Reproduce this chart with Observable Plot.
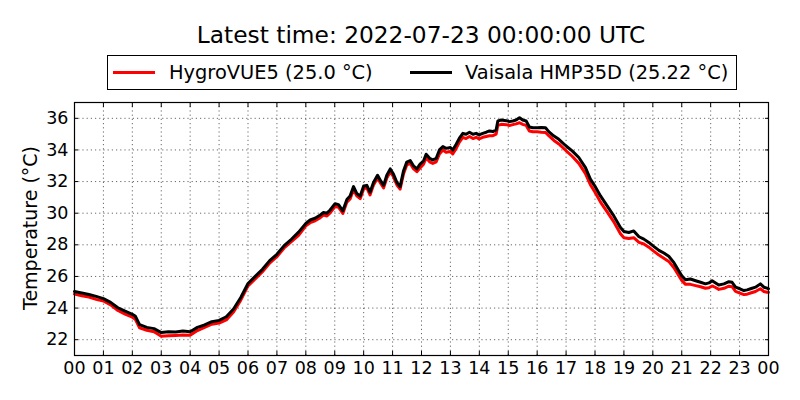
<!DOCTYPE html>
<html>
<head>
<meta charset="utf-8">
<script src="https://cdn.jsdelivr.net/npm/d3@7"></script>
<script src="https://cdn.jsdelivr.net/npm/@observablehq/plot@0.6"></script>
<style>
  html, body { margin: 0; padding: 0; background: #fff; }
  body { width: 800px; height: 400px; position: relative; overflow: hidden; font-family: "DejaVu Sans", sans-serif; }
  #title { position: absolute; left: 74px; width: 694px; top: 21px; text-align: center; font-size: 23.3px; color: #000; }
  #legend { position: absolute; left: 107px; top: 55px; width: 628px; height: 33px; border: 1px solid #000; box-sizing: content-box; font-size: 19.4px; }
  .item { position: absolute; top: 0; height: 33px; line-height: 33px; white-space: nowrap; }
  .sw { position: absolute; top: 15px; width: 42px; height: 3px; }
  #ylabel { position: absolute; left: 30px; top: 228px; transform: translate(-50%, -50%) rotate(-90deg); font-size: 19px; white-space: nowrap; }
  #chart { position: absolute; left: 0; top: 90px; }
</style>
</head>
<body>
<div id="title"></div>
<div id="legend"></div>
<div id="ylabel">Temperature (°C)</div>
<div id="chart"></div>
<script>
// Hours since 2022-07-22 00:00 UTC
const hours = [0,0.25,0.5,0.75,1,1.25,1.5,1.75,2,2.1,2.25,2.5,2.75,3,3.25,3.5,3.75,4,4.25,4.5,4.75,5,5.25,5.5,5.75,6,6.25,6.5,6.75,7,7.25,7.5,7.75,8,8.15,8.32,8.5,8.61,8.73,8.84,9.01,9.13,9.28,9.42,9.53,9.65,9.76,9.88,10,10.11,10.22,10.34,10.48,10.59,10.69,10.8,10.92,11.03,11.15,11.26,11.38,11.49,11.61,11.72,11.84,11.95,12.07,12.16,12.28,12.39,12.51,12.62,12.74,12.85,13,13.08,13.2,13.31,13.43,13.54,13.66,13.78,13.89,13.99,14.12,14.24,14.35,14.47,14.58,14.64,14.76,14.93,15.04,15.16,15.27,15.39,15.5,15.62,15.73,15.85,16,16.14,16.29,16.4,16.58,16.75,17,17.21,17.44,17.67,17.84,17.99,18.19,18.42,18.65,18.88,19,19.17,19.34,19.52,19.69,19.86,20.03,20.21,20.38,20.55,20.73,20.9,21,21.13,21.3,21.48,21.65,21.82,21.94,22.05,22.17,22.28,22.46,22.63,22.74,22.86,23.01,23.15,23.26,23.38,23.55,23.72,23.84,23.95,24];

const vaisala = [25.05,24.95,24.86,24.74,24.6,24.36,24.02,23.8,23.6,23.5,22.95,22.78,22.7,22.45,22.5,22.48,22.55,22.5,22.78,22.93,23.14,23.22,23.45,23.94,24.67,25.55,26.0,26.45,27.0,27.4,27.95,28.35,28.8,29.35,29.57,29.68,29.89,30.04,30.0,30.2,30.6,30.54,30.15,30.86,31.08,31.68,31.25,31.08,31.72,31.76,31.33,31.94,32.4,32.04,31.76,32.4,32.8,32.47,31.94,31.68,32.69,33.23,33.33,33.0,32.8,33.1,33.3,33.73,33.47,33.37,33.47,34.0,34.21,34.1,34.15,34.0,34.36,34.74,35.05,34.99,35.12,34.99,35.05,34.95,35.05,35.12,35.2,35.16,35.26,35.83,35.89,35.85,35.79,35.83,35.89,36.04,35.89,35.83,35.45,35.4,35.4,35.42,35.4,35.16,34.88,34.67,34.25,33.94,33.52,32.88,32.15,31.73,31.09,30.46,29.83,29.09,28.84,28.78,28.88,28.51,28.36,28.15,27.9,27.65,27.48,27.28,26.87,26.35,26.04,25.79,25.84,25.73,25.63,25.53,25.59,25.73,25.59,25.46,25.53,25.67,25.63,25.32,25.22,25.11,25.15,25.22,25.32,25.53,25.32,25.26,25.22];

const hygrovue = [24.88,24.78,24.7,24.55,24.45,24.2,23.85,23.62,23.42,23.3,22.75,22.6,22.5,22.22,22.25,22.27,22.3,22.28,22.58,22.78,22.98,23.05,23.25,23.75,24.5,25.4,25.85,26.3,26.85,27.25,27.8,28.2,28.6,29.2,29.4,29.52,29.72,29.88,29.82,30.02,30.42,30.38,29.98,30.7,30.9,31.5,31.1,30.92,31.55,31.6,31.15,31.78,32.22,31.88,31.6,32.22,32.62,32.3,31.78,31.52,32.5,33.05,33.15,32.82,32.62,32.85,33.1,33.5,33.25,33.15,33.25,33.75,34.0,33.85,33.9,33.75,34.1,34.5,34.8,34.72,34.85,34.72,34.8,34.7,34.8,34.85,34.9,34.9,35.0,35.55,35.62,35.6,35.55,35.6,35.65,35.72,35.62,35.55,35.2,35.15,35.15,35.12,35.1,34.9,34.6,34.38,33.95,33.6,33.15,32.5,31.8,31.35,30.7,30.08,29.45,28.7,28.45,28.4,28.45,28.15,28.05,27.85,27.6,27.35,27.15,26.95,26.55,26.05,25.75,25.5,25.5,25.42,25.35,25.25,25.28,25.4,25.3,25.18,25.25,25.38,25.35,25.05,24.95,24.85,24.88,24.95,25.05,25.22,25.05,25.0,25.0];

const seriesNames = ["HygroVUE5 (25.0 °C)", "Vaisala HMP35D (25.22 °C)"];
const seriesColors = ["#ff0000", "#000000"];
const yTicks = [22, 24, 26, 28, 30, 32, 34, 36];
const titleText = "Latest time: 2022-07-23 00:00:00 UTC";
const startDay = Date.UTC(2022, 6, 22);
const endDay = Date.UTC(2022, 6, 23);

document.getElementById("title").textContent = titleText;

// legend
const legend = document.getElementById("legend");
const legendPos = [{sw: 5, lab: 61}, {sw: 302, lab: 357}];
seriesNames.forEach((name, i) => {
  const sw = document.createElement("div");
  sw.className = "sw";
  sw.style.left = legendPos[i].sw + "px";
  sw.style.background = seriesColors[i];
  legend.appendChild(sw);
  const lab = document.createElement("div");
  lab.className = "item";
  lab.style.left = legendPos[i].lab + "px";
  lab.textContent = name;
  legend.appendChild(lab);
});

const toDate = h => new Date(startDay + h * 3600e3);
const dataH = hours.map((h, i) => ({t: toDate(h), v: hygrovue[i]}));
const dataV = hours.map((h, i) => ({t: toDate(h), v: vaisala[i]}));
const xTicks = d3.utcHour.range(new Date(startDay), new Date(endDay + 1));

const chart = Plot.plot({
  width: 800,
  height: 310,
  marginTop: 12,
  marginBottom: 45,
  marginLeft: 74,
  marginRight: 32,
  style: {fontFamily: "DejaVu Sans, sans-serif", background: "transparent"},
  x: {type: "utc", domain: [new Date(startDay), new Date(endDay)]},
  y: {domain: [21, 37]},
  marks: [
    Plot.gridX(xTicks, {stroke: "#000", strokeOpacity: 0.75, strokeDasharray: "1.2,3", strokeWidth: 0.8}),
    Plot.gridY(yTicks, {stroke: "#000", strokeOpacity: 0.75, strokeDasharray: "1.2,3", strokeWidth: 0.8}),
    Plot.line(dataH, {x: "t", y: "v", stroke: seriesColors[0], strokeWidth: 3}),
    Plot.line(dataV, {x: "t", y: "v", stroke: seriesColors[1], strokeWidth: 3}),
    // inward tick marks on all four sides
    Plot.axisX(xTicks, {tickSize: 4, dy: -4, text: null, label: null, strokeWidth: 1}),
    Plot.axisX(xTicks, {anchor: "top", tickSize: 4, dy: 4, text: null, label: null, strokeWidth: 1}),
    Plot.axisY(yTicks, {tickSize: 4, dx: 4, text: null, label: null, strokeWidth: 1}),
    Plot.axisY(yTicks, {anchor: "right", tickSize: 4, dx: -4, text: null, label: null, strokeWidth: 1}),
    // labels
    Plot.axisX(xTicks, {tickSize: 0, tickPadding: 6, tickFormat: d3.utcFormat("%H"), label: null, fontSize: 17.5, fill: "#000"}),
    Plot.axisY(yTicks, {tickSize: 0, tickPadding: 6, label: null, fontSize: 17.5, fill: "#000"}),
    Plot.frame({stroke: "#000", strokeWidth: 1.2})
  ]
});
document.getElementById("chart").appendChild(chart);
</script>
</body>
</html>
